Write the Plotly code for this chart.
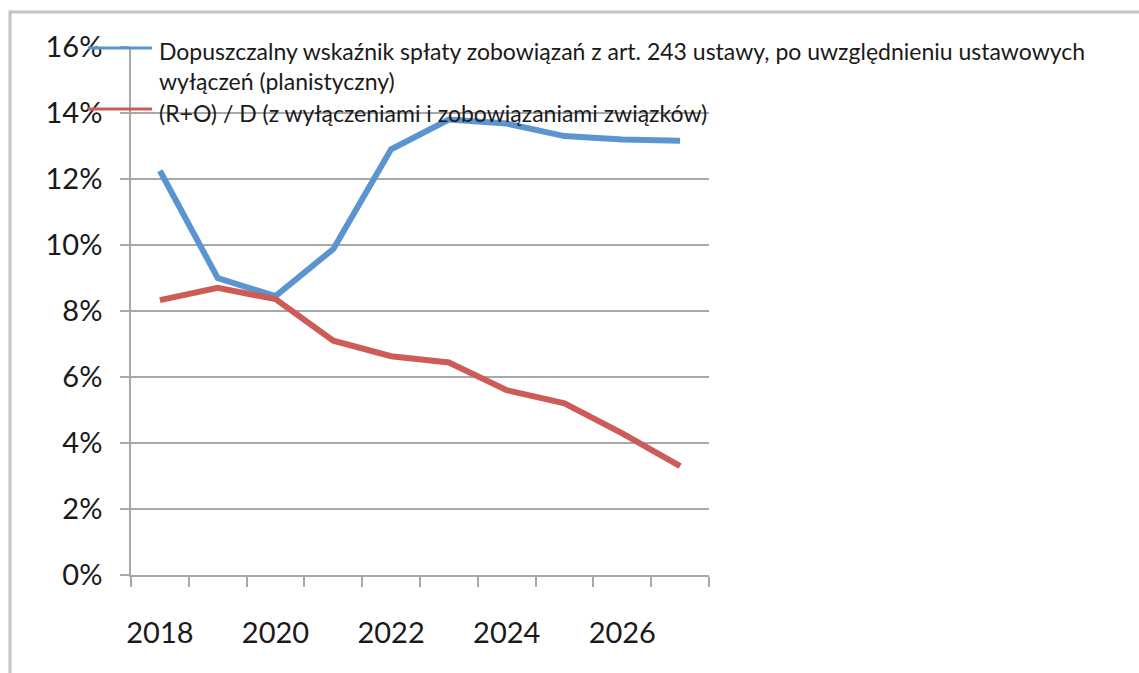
import plotly.graph_objects as go

years = [2018, 2019, 2020, 2021, 2022, 2023, 2024, 2025, 2026, 2027]
limit_pct = [12.25, 9.0, 8.45, 9.88, 12.9, 13.8, 13.68, 13.3, 13.2, 13.16]
ratio_pct = [8.33, 8.7, 8.36, 7.1, 6.63, 6.44, 5.6, 5.2, 4.29, 3.3]
name_limit_lines = ["Dopuszczalny wskaźnik spłaty zobowiązań z art. 243 ustawy, po uwzględnieniu ustawowych",
                    "wyłączeń (planistyczny)"]
name_ratio = "(R+O) / D (z wyłączeniami i zobowiązaniami związków)"
y_ticks = [0, 2, 4, 6, 8, 10, 12, 14, 16]
y_tick_text = [f"{v}%" for v in y_ticks]
x_label_years = [2018, 2020, 2022, 2024, 2026]

BLUE = "#5b95d0"
RED = "#cd5c56"
GRID = "#a8a8a8"
TXT = "#1a1a1a"
FONT = "Lato"

W, H = 1139, 673
L, R, T, B = 131, 709, 47, 575


def px(x):
    return (x - L) / (R - L)


def py(y):
    return (B - y) / (B - T)


fig = go.Figure()
fig.add_trace(go.Scatter(x=years, y=limit_pct, mode="lines", name=" ".join(name_limit_lines),
                         line=dict(color=BLUE, width=6)))
fig.add_trace(go.Scatter(x=years, y=ratio_pct, mode="lines", name=name_ratio,
                         line=dict(color=RED, width=6)))

shapes = [
    # white box behind the legend, hiding top gridlines
    dict(type="rect", xref="paper", yref="paper", x0=px(85), x1=px(712), y0=py(127), y1=py(35),
         fillcolor="white", line=dict(width=0), layer="between"),
    # outer frame (top and left edges)
    dict(type="line", xref="paper", yref="paper", x0=px(9.5), x1=px(1139), y0=py(12), y1=py(12),
         line=dict(color="#c4c4c4", width=3), layer="above"),
    dict(type="line", xref="paper", yref="paper", x0=px(10), x1=px(10), y0=py(10.5), y1=py(673),
         line=dict(color="#c4c4c4", width=3), layer="above"),
    # legend samples
    dict(type="line", xref="paper", yref="paper", x0=px(88), x1=px(152), y0=py(48), y1=py(48),
         line=dict(color=BLUE, width=3), layer="above"),
    dict(type="line", xref="paper", yref="paper", x0=px(88), x1=px(152), y0=py(109), y1=py(109),
         line=dict(color=RED, width=3), layer="above"),
]

annotations = []
for txt, yc in zip(name_limit_lines + [name_ratio], [51, 81.5, 113]):
    annotations.append(dict(text=txt, xref="paper", yref="paper", x=px(157), y=py(yc),
                            xanchor="left", yanchor="middle", showarrow=False,
                            font=dict(family=FONT, size=23, color=TXT)))

fig.update_layout(
    width=W, height=H,
    margin=dict(l=L, r=W - R, t=T, b=H - B, pad=0),
    paper_bgcolor="white", plot_bgcolor="white",
    showlegend=False,
    shapes=shapes,
    annotations=annotations,
    font=dict(family=FONT, color=TXT),
)
fig.update_xaxes(
    range=[2017.5, 2027.5], tickmode="array", tickvals=x_label_years,
    ticktext=[str(v) for v in x_label_years], ticks="", showgrid=False,
    showline=True, linecolor=GRID, linewidth=1.5,
    tickfont=dict(family=FONT, size=29, color=TXT), ticklabelstandoff=31,
    minor=dict(tickmode="array", tickvals=[y + 0.5 for y in [2017] + years],
               ticks="outside", ticklen=10, tickcolor=GRID, tickwidth=1.5, showgrid=False),
    zeroline=False,
)
fig.update_yaxes(
    range=[0, 16], tickmode="array", tickvals=y_ticks, ticktext=y_tick_text,
    ticks="outside", ticklen=9, tickcolor=GRID, tickwidth=1.5,
    showgrid=True, gridcolor=GRID, gridwidth=1.5,
    showline=True, linecolor=GRID, linewidth=1.5,
    tickfont=dict(family=FONT, size=29, color=TXT), ticklabelstandoff=12,
    zeroline=False,
)

fig.write_html("out.html", config={"displayModeBar": False},
               post_script="document.body.style.margin='0';")
